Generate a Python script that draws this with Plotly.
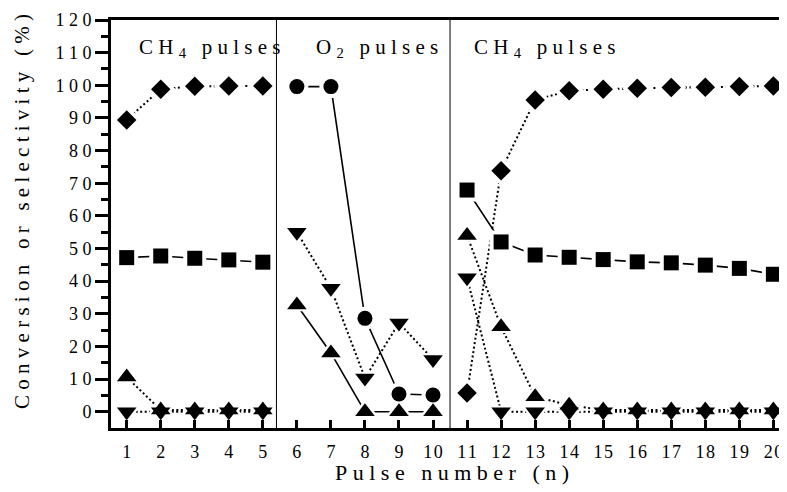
import plotly.graph_objects as go

# ---------------- data ----------------
pulse = list(range(1, 21))

# diamonds (dotted)
diamond_vals = [89.4, 98.8, 99.7, 99.8, 99.8, None, None, None, None, None,
                5.7, 73.8, 95.5, 98.3, 98.8, 99.1, 99.3, 99.4, 99.6, 99.8]
# squares (solid)
square_vals = [47.2, 47.7, 47.0, 46.5, 45.8, None, None, None, None, None,
               67.9, 52.0, 48.0, 47.3, 46.6, 45.9, 45.6, 44.9, 43.9, 42.1]
# circles (solid, O2 pulses only)
circle_vals = [None, None, None, None, None, 99.6, 99.6, 28.6, 5.4, 5.1,
               None, None, None, None, None, None, None, None, None, None]
# up triangles
up_vals = [10.6, 0.5, 0.5, 0.5, 0.5, 32.7, 18.0, 0.0, 0.0, 0.0,
           54.0, 26.0, 4.6, 2.0, 0.5, 0.5, 0.5, 0.5, 0.5, 0.5]
# down triangles
down_vals = [0.0, 0.0, 0.0, 0.0, 0.0, 55.0, 37.8, 10.3, 27.2, 16.0,
             41.0, 0.0, 0.0, 0.0, 0.0, 0.0, 0.0, 0.0, 0.0, 0.0]

regions = [(1, 5), (6, 10), (11, 20)]
region_labels = ["CH|4| pulses", "O|2| pulses", "CH|4| pulses"]
separators = [5.4, 10.5]

y_ticks = list(range(0, 121, 10))
y_minor = list(range(5, 120, 10))
x_ticks = pulse

GAP = "\u00a0"   # no-break space used as letter spacing
XGAP = "\u200a"  # narrow gap for the x tick labels
SERIF = "Liberation Serif"


def spaced(s, gap=GAP):
    return gap.join(list(s))


def label_html(lbl):
    a, sub, b = lbl.split("|")
    return spaced(a) + GAP + "<sub>" + sub + "</sub>" + GAP + spaced(b)


# ---------------- styling ----------------
DOT = "2px,2.5px"
series = [
    # name, values, symbol, size, dash per region
    ("diamond", diamond_vals, "diamond", 15, [DOT, DOT, DOT]),
    ("square", square_vals, "square", 15, ["solid", "solid", "solid"]),
    ("circle", circle_vals, "circle", 15, ["solid", "solid", "solid"]),
    ("up", up_vals, "triangle-up", 17, [DOT, "solid", DOT]),
    ("down", down_vals, "triangle-down", 17, [DOT, DOT, DOT]),
]

fig = go.Figure()

# lines (per region segment)
for name, vals, sym, size, dashes in series:
    for (a, b), dash in zip(regions, dashes):
        xs = [x for x in pulse if a <= x <= b and vals[x - 1] is not None]
        ys = [vals[x - 1] for x in xs]
        if len(xs) < 2:
            continue
        fig.add_trace(go.Scatter(
            x=xs, y=ys, mode="lines", showlegend=False, hoverinfo="skip",
            line=dict(color="black", width=1.6 if dash == "solid" else 2, dash=dash),
        ))

# white halos (gap around symbols)
for name, vals, sym, size, dashes in series:
    fig.add_trace(go.Scatter(
        x=pulse, y=vals, mode="markers", showlegend=False, hoverinfo="skip",
        marker=dict(symbol=sym, size=size + 8, color="white", line=dict(width=0)),
    ))

# symbols
for name, vals, sym, size, dashes in series:
    fig.add_trace(go.Scatter(
        x=pulse, y=vals, mode="markers", name=name, showlegend=False,
        marker=dict(symbol=sym, size=size, color="black", line=dict(width=0)),
    ))

# separators between pulse regions
for s in separators:
    fig.add_shape(type="line", xref="x", yref="paper", x0=s, x1=s, y0=0, y1=1,
                  line=dict(color="black", width=1), layer="above")

# region labels
label_x = [1.30, 6.51, 11.14]
for lx, lbl in zip(label_x, region_labels):
    fig.add_annotation(x=lx, y=111.3, xref="x", yref="y", text=label_html(lbl),
                       showarrow=False, xanchor="left", yanchor="middle",
                       font=dict(family=SERIF, size=21, color="black"))

# axis titles
fig.add_annotation(x=0.5044, y=-0.108, xref="paper", yref="paper",
                   text=spaced("Pulse number (n)"), showarrow=False,
                   xanchor="center", yanchor="middle",
                   font=dict(family=SERIF, size=22, color="black"))
fig.add_annotation(x=-0.1317, y=0.532, xref="paper", yref="paper",
                   text=spaced("Conversion or selectivity (%)"), showarrow=False,
                   textangle=-90, xanchor="center", yanchor="middle",
                   font=dict(family=SERIF, size=21, color="black"))

# page body has an 8px margin: shift the figure so the plot area lands in place
fig.update_layout(
    width=779, height=484,
    margin=dict(l=103, r=0, t=12, b=64),
    paper_bgcolor="white", plot_bgcolor="white",
    font=dict(family=SERIF, color="black", size=18),
    xaxis=dict(
        range=[0.539, 20.40], showgrid=False, zeroline=False,
        showline=True, linecolor="black", linewidth=3, mirror=True,
        ticks="inside", ticklen=8, tickwidth=3, tickcolor="black",
        tickmode="array", tickvals=x_ticks,
        ticktext=[spaced(str(v), XGAP) for v in x_ticks],
        tickfont=dict(family=SERIF, size=18, color="black"),
        ticklabelstandoff=5,
    ),
    yaxis=dict(
        range=[-5, 120], showgrid=False, zeroline=False,
        showline=True, linecolor="black", linewidth=3,
        ticks="outside", ticklen=13, tickwidth=3, tickcolor="black",
        tickmode="array", tickvals=y_ticks,
        ticktext=[spaced(str(v)) for v in y_ticks],
        tickfont=dict(family=SERIF, size=18, color="black"),
        minor=dict(ticks="outside", ticklen=7, tickwidth=3, tickcolor="black",
                   tickmode="array", tickvals=y_minor, showgrid=False),
    ),
)

fig.write_html("out.html")
